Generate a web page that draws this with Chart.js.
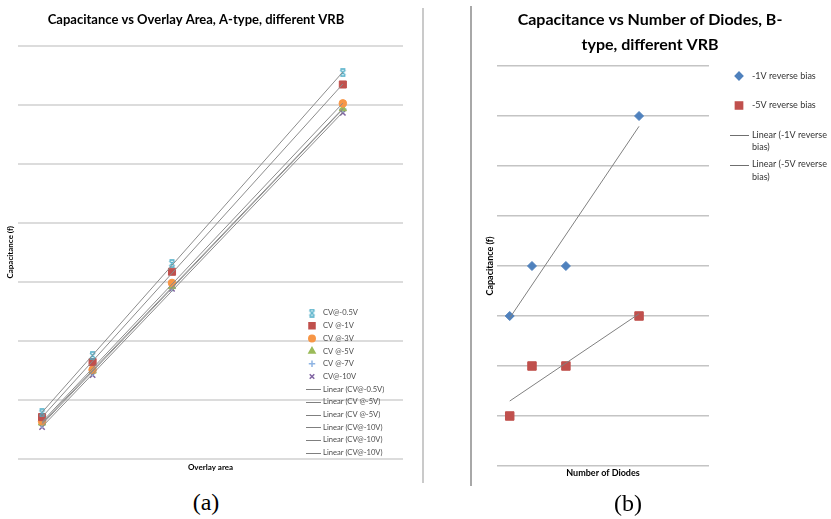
<!DOCTYPE html>
<html>
<head>
<meta charset="utf-8">
<script src="https://cdn.jsdelivr.net/npm/chart.js@4.4.1/dist/chart.umd.min.js"></script>
<style>
body { margin:0; background:#fff; width:831px; height:519px; overflow:hidden; position:relative; }
#zoneA { position:absolute; left:-20px; top:0; width:432px; height:480px; }
#zoneB { position:absolute; left:471px; top:0; width:358px; height:490px; }
.trait { position:absolute; }
.lettre { position:absolute; font-family:"Liberation Serif", serif; font-size:24px; transform:translate(-50%,-50%); }
</style>
</head>
<body>
<div id="zoneA"><canvas id="canvasGraphA"></canvas></div>
<div id="zoneB"><canvas id="canvasGraphB"></canvas></div>
<div class="trait" style="left:422px; top:8px; width:2px; height:475px; background:#cacaca;"></div>
<div class="trait" style="left:470px; top:6px; width:2px; height:480px; background:#a8a8a8;"></div>
<div class="lettre" style="left:206px; top:502px;">(a)</div>
<div class="lettre" style="left:628px; top:503px;">(b)</div>
<script>
// Graphique (a) : capacite selon l'aire de recouvrement
var aireRecouvrement = [1.0, 3.1, 6.4, 13.5];
var cv05V = [0.78, 1.75, 3.31, 6.54];
var cv1V  = [0.71, 1.64, 3.17, 6.34];
var cv3V  = [0.64, 1.51, 2.98, 6.02];
var cv5V  = [0.61, 1.49, 2.92, 5.93];
var cv7V  = [0.59, 1.47, 2.90, 5.92];
var cv10V = [0.54, 1.42, 2.88, 5.86];
var nomsSeriesA = ["CV@-0.5V", "CV @-1V", "CV @-3V", "CV @-5V", "CV @-7V", "CV@-10V"];
var nomsTendancesA = ["Linear (CV@-0.5V)", "Linear (CV @-5V)", "Linear (CV @-5V)", "Linear (CV@-10V)", "Linear (CV@-10V)", "Linear (CV@-10V)"];

// Graphique (b) : capacite selon le nombre de diodes
var nombreDiodes = [1.2, 3.3, 6.5, 13.4];
var polar1V = [3, 4, 4, 7];
var polar5V = [1, 2, 2, 3];
var nomsSeriesB = ["-1V reverse bias", "-5V reverse bias"];
var nomsTendancesB = ["Linear (-1V reverse bias)", "Linear (-5V reverse bias)"];

var police = "Lato, 'Open Sans', sans-serif";

// Droite des moindres carres entre le premier et le dernier point
function DroiteTendance(xs, ys)
{
    var n = xs.length, mx = 0, my = 0, sxy = 0, sxx = 0;
    for(var i = 0; i < n; i++) { mx += xs[i] / n; my += ys[i] / n; }
    for(var j = 0; j < n; j++)
    {
        sxy += (xs[j] - mx) * (ys[j] - my);
        sxx += (xs[j] - mx) * (xs[j] - mx);
    }
    var a = sxy / sxx;
    var b = my - a * mx;
    return [{x: xs[0], y: a * xs[0] + b}, {x: xs[n - 1], y: a * xs[n - 1] + b}];
}

// Marqueur "etoile" facon Excel : une croix fermee en haut et en bas
function CreerEtoile(couleur)
{
    var c = document.createElement("canvas");
    c.width = 9;
    c.height = 9;
    var ctx = c.getContext("2d");
    ctx.strokeStyle = couleur;
    ctx.lineWidth = 1.3;
    ctx.beginPath();
    ctx.moveTo(2, 2); ctx.lineTo(7, 7);
    ctx.moveTo(7, 2); ctx.lineTo(2, 7);
    ctx.moveTo(2, 1); ctx.lineTo(7, 1);
    ctx.moveTo(2, 8); ctx.lineTo(7, 8);
    ctx.stroke();
    return c;
}

function Couper(ctx, texte, largeurMax)
{
    if(!largeurMax) return [texte];
    var mots = texte.split(" ");
    var lignes = [];
    var courante = "";
    mots.forEach(function(m)
    {
        var essai = courante === "" ? m : courante + " " + m;
        if(ctx.measureText(essai).width > largeurMax && courante !== "")
        {
            lignes.push(courante);
            courante = m;
        }
        else
        {
            courante = essai;
        }
    });
    lignes.push(courante);
    return lignes;
}

// Legende dessinee a la main, posee dans la zone du graphique
var legendeManuelle = {
    id: "legendeManuelle",
    afterDraw: function(chart, args, opts)
    {
        var ctx = chart.ctx;
        ctx.save();
        ctx.font = opts.taille + "px " + police;
        ctx.textBaseline = "middle";
        ctx.textAlign = "left";
        var y = opts.y;
        opts.elements.forEach(function(el)
        {
            if(el.type === "ligne")
            {
                ctx.strokeStyle = el.couleur;
                ctx.lineWidth = 1;
                ctx.beginPath();
                ctx.moveTo(opts.xLigne[0], Math.round(y) + 0.5);
                ctx.lineTo(opts.xLigne[1], Math.round(y) + 0.5);
                ctx.stroke();
            }
            else
            {
                ctx.fillStyle = el.couleur;
                ctx.strokeStyle = el.couleur;
                ctx.lineWidth = 1.5;
                if(Chart.helpers && Chart.helpers.drawPoint)
                {
                    Chart.helpers.drawPoint(ctx, {pointStyle: el.style, radius: el.rayon, rotation: 0, borderWidth: 1.5}, opts.xMarque, y);
                }
                else
                {
                    ctx.fillRect(opts.xMarque - 3, y - 3, 6, 6);
                }
            }
            var lignes = Couper(ctx, el.texte, opts.largeurMax);
            ctx.fillStyle = opts.couleur;
            lignes.forEach(function(l, i)
            {
                ctx.fillText(l, opts.xTexte, y + i * opts.interligne);
            });
            y += opts.pas;
        });
        ctx.restore();
    }
};

function DessinerGraphA()
{
    var seriesA = [cv05V, cv1V, cv3V, cv5V, cv7V, cv10V];
    var couleursA = ["#4bacc6", "#c0504d", "#f79646", "#9bbb59", "#8eb4e3", "#8064a2"];
    var stylesA = [CreerEtoile("#4bacc6"), "rect", "circle", "triangle", "cross", "crossRot"];
    var rayonsA = [4.5, 5, 3.8, 4.2, 3.8, 3.8];

    var jeux = [];
    var elementsLegende = [];
    seriesA.forEach(function(serie, i)
    {
        jeux.push({
            label: nomsSeriesA[i],
            data: aireRecouvrement.map(function(x, k) { return {x: x, y: serie[k]}; }),
            pointStyle: stylesA[i],
            pointRadius: rayonsA[i],
            backgroundColor: couleursA[i],
            borderColor: couleursA[i],
            borderWidth: (i >= 4) ? 1.5 : 1,
            order: 2
        });
        elementsLegende.push({texte: nomsSeriesA[i], type: "point", style: stylesA[i], rayon: rayonsA[i] * 0.85, couleur: couleursA[i]});
    });
    seriesA.forEach(function(serie, i)
    {
        jeux.push({
            label: nomsTendancesA[i],
            data: DroiteTendance(aireRecouvrement, serie),
            showLine: true,
            pointRadius: 0,
            borderColor: "#8c8c8c",
            borderWidth: 1,
            order: 1
        });
        elementsLegende.push({texte: nomsTendancesA[i], type: "ligne", couleur: "#7f7f7f"});
    });

    new Chart(document.getElementById("canvasGraphA"), {
        type: "scatter",
        data: { datasets: jeux },
        plugins: [legendeManuelle],
        options: {
            responsive: true,
            maintainAspectRatio: false,
            animation: false,
            events: [],
            layout: { padding: 0 },
            plugins: {
                legend: { display: false },
                tooltip: { enabled: false },
                title: {
                    display: true,
                    text: "Capacitance vs Overlay Area, A-type, different VRB",
                    color: "#000",
                    font: { family: police, size: 13, weight: "bold" },
                    padding: { top: 12.2, bottom: 17.7 }
                },
                legendeManuelle: {
                    x: 0, y: 313, pas: 12.7, interligne: 12,
                    xMarque: 332, xTexte: 343, xLigne: [326, 341],
                    taille: 7.6, couleur: "#4d4d4d", largeurMax: null,
                    elements: elementsLegende
                }
            },
            scales: {
                x: {
                    type: "linear", min: 0, max: 16,
                    grid: { display: false },
                    border: { display: false },
                    ticks: { display: false },
                    title: { display: true, text: "Overlay area", color: "#000", font: { family: police, size: 8, weight: "bold" }, padding: { top: 0, bottom: 8 } },
                    afterFit: function(s) { s.height = 21; }
                },
                y: {
                    min: 0, max: 7,
                    ticks: { display: false, stepSize: 1 },
                    grid: { color: "#dcdcdc", lineWidth: 2, drawTicks: false },
                    border: { display: false },
                    title: { display: true, text: "Capacitance (f)", color: "#000", font: { family: police, size: 8, weight: "bold" }, padding: { top: 26, bottom: 0 } },
                    afterFit: function(s) { s.width = 38; }
                },
                yVide: {
                    position: "right",
                    grid: { display: false },
                    border: { display: false },
                    ticks: { display: false },
                    afterFit: function(s) { s.width = 9; }
                }
            }
        }
    });
}

function DessinerGraphB()
{
    var seriesB = [polar1V, polar5V];
    var couleursB = ["#4f81bd", "#c0504d"];
    var stylesB = ["rectRot", "rect"];
    var rayonsB = [4.5, 6];

    var jeux = [];
    var elementsLegende = [];
    seriesB.forEach(function(serie, i)
    {
        jeux.push({
            label: nomsSeriesB[i],
            data: nombreDiodes.map(function(x, k) { return {x: x, y: serie[k]}; }),
            pointStyle: stylesB[i],
            pointRadius: rayonsB[i],
            backgroundColor: couleursB[i],
            borderColor: couleursB[i],
            borderWidth: 1,
            order: 2
        });
        elementsLegende.push({texte: nomsSeriesB[i], type: "point", style: stylesB[i], rayon: rayonsB[i] * 0.85, couleur: couleursB[i]});
    });
    seriesB.forEach(function(serie, i)
    {
        jeux.push({
            label: nomsTendancesB[i],
            data: DroiteTendance(nombreDiodes, serie),
            showLine: true,
            pointRadius: 0,
            borderColor: "#808080",
            borderWidth: 1,
            order: 1
        });
        elementsLegende.push({texte: nomsTendancesB[i], type: "ligne", couleur: "#6f6f6f"});
    });

    new Chart(document.getElementById("canvasGraphB"), {
        type: "scatter",
        data: { datasets: jeux },
        plugins: [legendeManuelle],
        options: {
            responsive: true,
            maintainAspectRatio: false,
            animation: false,
            events: [],
            layout: { padding: 0 },
            plugins: {
                legend: { display: false },
                tooltip: { enabled: false },
                title: {
                    display: true,
                    text: ["Capacitance vs Number of Diodes, B-", "type, different VRB"],
                    color: "#000",
                    font: { family: police, size: 16, weight: "bold", lineHeight: 1.5625 },
                    padding: { top: 7.5, bottom: 8.5 }
                },
                legendeManuelle: {
                    x: 0, y: 76, pas: 29.5, interligne: 12.5,
                    xMarque: 268, xTexte: 281, xLigne: [259, 278],
                    taille: 9, couleur: "#333333", largeurMax: 80,
                    elements: elementsLegende
                }
            },
            scales: {
                x: {
                    type: "linear", min: 0, max: 20,
                    grid: { display: false },
                    border: { display: false },
                    ticks: { display: false },
                    title: { display: true, text: "Number of Diodes", color: "#000", font: { family: police, size: 9, weight: "bold" }, padding: { top: 0, bottom: 11.6 } },
                    afterFit: function(s) { s.height = 24; }
                },
                y: {
                    min: 0, max: 8,
                    ticks: { display: false, stepSize: 1 },
                    grid: { color: "#c4c4c4", lineWidth: 1.5, drawTicks: false },
                    border: { display: false },
                    title: { display: true, text: "Capacitance (f)", color: "#000", font: { family: police, size: 9, weight: "bold" }, padding: { top: 13.6, bottom: 0 } },
                    afterFit: function(s) { s.width = 26; }
                },
                yVide: {
                    position: "right",
                    grid: { display: false },
                    border: { display: false },
                    ticks: { display: false },
                    afterFit: function(s) { s.width = 120; }
                }
            }
        }
    });
}

DessinerGraphA();
DessinerGraphB();
</script>
</body>
</html>
